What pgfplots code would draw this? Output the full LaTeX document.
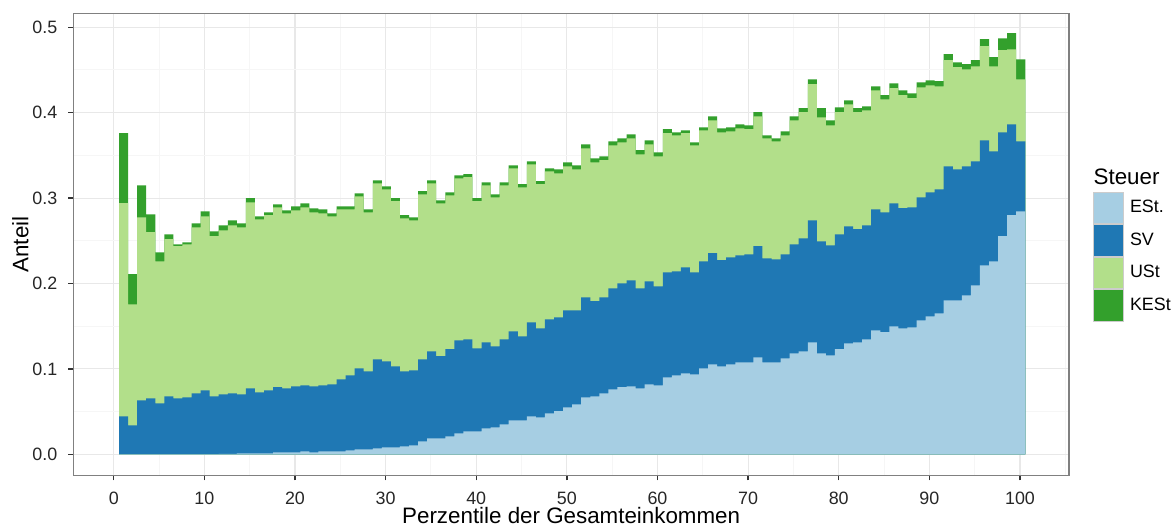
\documentclass[border=0pt]{standalone}
\usepackage{fontspec}
\setmainfont{Liberation Sans}
\usepackage{pgfplots}
\usepackage{pgfplotstable}
\pgfplotsset{compat=1.18}
\definecolor{cE}{HTML}{A6CEE3}
\definecolor{cS}{HTML}{1F78B4}
\definecolor{cU}{HTML}{B2DF8A}
\definecolor{cK}{HTML}{33A02C}
\definecolor{gmaj}{HTML}{E8E8E8}
\definecolor{gmin}{HTML}{F6F6F6}
\definecolor{keyb}{HTML}{CCCCCC}
% cumulative tops: E = ESt., S = ESt.+SV, U = ...+USt, K = ...+KESt
\pgfplotstableread{
i E S U K
1 0.0003 0.0445 0.2940 0.3760
2 0.0003 0.0340 0.1756 0.2110
3 0.0003 0.0632 0.2775 0.3150
4 0.0003 0.0656 0.2600 0.2810
5 0.0003 0.0597 0.2260 0.2365
6 0.0003 0.0679 0.2518 0.2576
7 0.0003 0.0656 0.2436 0.2459
8 0.0003 0.0667 0.2459 0.2482
9 0.0003 0.0714 0.2658 0.2705
10 0.0003 0.0749 0.2787 0.2845
11 0.0003 0.0679 0.2553 0.2611
12 0.0005 0.0703 0.2623 0.2680
13 0.0005 0.0714 0.2680 0.2740
14 0.0010 0.0703 0.2658 0.2705
15 0.0010 0.0773 0.2951 0.2998
16 0.0010 0.0726 0.2752 0.2787
17 0.0010 0.0749 0.2799 0.2834
18 0.0023 0.0785 0.2892 0.2927
19 0.0023 0.0773 0.2822 0.2857
20 0.0023 0.0796 0.2857 0.2904
21 0.0035 0.0808 0.2892 0.2939
22 0.0023 0.0796 0.2834 0.2880
23 0.0035 0.0808 0.2822 0.2869
24 0.0035 0.0820 0.2787 0.2822
25 0.0035 0.0878 0.2869 0.2904
26 0.0047 0.0925 0.2869 0.2904
27 0.0059 0.1007 0.3021 0.3056
28 0.0059 0.0972 0.2834 0.2869
29 0.0070 0.1112 0.3173 0.3208
30 0.0082 0.1089 0.3103 0.3138
31 0.0082 0.1030 0.2963 0.2998
32 0.0094 0.0972 0.2763 0.2799
33 0.0105 0.0984 0.2740 0.2775
34 0.0152 0.1112 0.3044 0.3080
35 0.0187 0.1206 0.3173 0.3208
36 0.0187 0.1148 0.2939 0.2974
37 0.0211 0.1230 0.3033 0.3068
38 0.0246 0.1335 0.3232 0.3267
39 0.0269 0.1347 0.3244 0.3279
40 0.0269 0.1241 0.2963 0.2998
41 0.0304 0.1311 0.3150 0.3185
42 0.0316 0.1265 0.3009 0.3044
43 0.0351 0.1347 0.3150 0.3185
44 0.0398 0.1440 0.3349 0.3384
45 0.0398 0.1382 0.3126 0.3162
46 0.0445 0.1546 0.3396 0.3431
47 0.0433 0.1475 0.3162 0.3197
48 0.0480 0.1581 0.3314 0.3349
49 0.0504 0.1604 0.3290 0.3337
50 0.0550 0.1686 0.3372 0.3419
51 0.0585 0.1686 0.3337 0.3384
52 0.0667 0.1838 0.3583 0.3630
53 0.0679 0.1792 0.3419 0.3466
54 0.0714 0.1838 0.3443 0.3489
55 0.0761 0.1944 0.3618 0.3665
56 0.0785 0.2002 0.3653 0.3700
57 0.0796 0.2037 0.3700 0.3747
58 0.0773 0.1944 0.3513 0.3560
59 0.0820 0.2026 0.3630 0.3677
60 0.0808 0.1967 0.3489 0.3536
61 0.0902 0.2131 0.3759 0.3806
62 0.0925 0.2143 0.3735 0.3770
63 0.0948 0.2190 0.3759 0.3794
64 0.0937 0.2131 0.3618 0.3653
65 0.1007 0.2260 0.3794 0.3829
66 0.1054 0.2354 0.3911 0.3958
67 0.1030 0.2272 0.3770 0.3817
68 0.1054 0.2307 0.3782 0.3829
69 0.1077 0.2330 0.3817 0.3864
70 0.1077 0.2342 0.3806 0.3852
71 0.1136 0.2436 0.3958 0.4005
72 0.1077 0.2295 0.3700 0.3735
73 0.1077 0.2283 0.3665 0.3700
74 0.1124 0.2342 0.3735 0.3782
75 0.1183 0.2459 0.3911 0.3958
76 0.1206 0.2529 0.4005 0.4052
77 0.1311 0.2740 0.4333 0.4391
78 0.1183 0.2494 0.3946 0.4052
79 0.1159 0.2447 0.3852 0.3911
80 0.1230 0.2576 0.4005 0.4063
81 0.1300 0.2670 0.4098 0.4145
82 0.1311 0.2635 0.4005 0.4052
83 0.1347 0.2681 0.4028 0.4075
84 0.1452 0.2869 0.4262 0.4309
85 0.1429 0.2834 0.4157 0.4204
86 0.1499 0.2939 0.4286 0.4344
87 0.1475 0.2881 0.4204 0.4262
88 0.1487 0.2892 0.4169 0.4227
89 0.1569 0.3009 0.4297 0.4356
90 0.1616 0.3068 0.4321 0.4379
91 0.1651 0.3103 0.4309 0.4368
92 0.1803 0.3372 0.4614 0.4684
93 0.1803 0.3337 0.4532 0.4590
94 0.1862 0.3372 0.4508 0.4567
95 0.1979 0.3431 0.4543 0.4614
96 0.2213 0.3677 0.4778 0.4860
97 0.2260 0.3548 0.4543 0.4649
98 0.2553 0.3770 0.4731 0.4871
99 0.2799 0.3864 0.4742 0.4930
100 0.2845 0.3665 0.4391 0.4625
}\data
\pgfplotsset{
  mybar/.style={fill=#1, draw=none, bar width=1.005, bar shift=0pt,
    legend image code/.code={\draw[##1, draw=keyb, line width=0.55pt] (0.27pt,-8.45pt) rectangle (16.69pt,8.45pt);}},
}
\begin{document}
\begin{tikzpicture}
\useasboundingbox (-39.35pt,-27.75pt) rectangle (590.86pt,255.15pt);
\begin{axis}[name=ax, at={(0,0)}, anchor=south west,
  scale only axis, width=534.5pt, height=247.8pt,
  xmin=-4.46, xmax=105.41, ymin=-0.0246, ymax=0.5159,
  ybar,
  /pgf/number format/assume math mode=true,
  xtick={0,10,...,100}, ytick={0,0.1,0.2,0.3,0.4,0.5},
  minor xtick={5,15,...,105}, minor ytick={0.05,0.15,0.25,0.35,0.45},
  grid=both,
  major grid style={color=gmaj, line width=0.6pt},
  minor grid style={color=gmin, line width=0.55pt},
  xtick pos=bottom, ytick pos=left,
  tick align=outside, major tick length=2.7pt, minor tick length=0pt,
  tick style={color=black!80, line width=0.7pt},
  axis line style={color=black!50, line width=0.7pt},
  yticklabel style={/pgf/number format/fixed, /pgf/number format/fixed zerofill, /pgf/number format/precision=1},
  yticklabel style={anchor=east, inner sep=0pt, xshift=-5.7pt, color=black!85, font=\fontsize{9.6}{11}\selectfont},
  xticklabel style={anchor=north, inner sep=0pt, yshift=-5.9pt, color=black!85, font=\fontsize{9.6}{11}\selectfont},
  xlabel={Perzentile der Gesamteinkommen},
  ylabel={Anteil},
  every axis x label/.style={at={(axis description cs:0.5,0)}, anchor=base, yshift=-26.1pt, font=\fontsize{12}{14}\selectfont},
  every axis y label/.style={at={(axis description cs:-0.04518,0.5)}, rotate=90, anchor=base, font=\fontsize{12}{14}\selectfont},
  reverse legend,
  legend cell align=left,
  legend style={at={(1.0238,0.6144)}, anchor=north west, draw=none, fill=none,
    inner sep=0pt, outer sep=0pt, row sep=0pt, column sep=3.06pt,
    nodes={inner sep=0pt}, font=\fontsize{9.6}{11}\selectfont},
]
\addplot[mybar=cK] table[x expr=\thisrow{i}+0.085, y=K]{\data};
\addplot[mybar=cU] table[x expr=\thisrow{i}+0.085, y=U]{\data};
\addplot[mybar=cS] table[x expr=\thisrow{i}+0.085, y=S]{\data};
\addplot[mybar=cE] table[x expr=\thisrow{i}+0.085, y=E]{\data};
\legend{KESt,USt,SV,ESt.}
\end{axis}
\node[anchor=base west, inner sep=0pt, font=\fontsize{12}{14}\selectfont] at ([xshift=13.04pt,yshift=-91.95pt]ax.north east) {Steuer};
\end{tikzpicture}
\end{document}
